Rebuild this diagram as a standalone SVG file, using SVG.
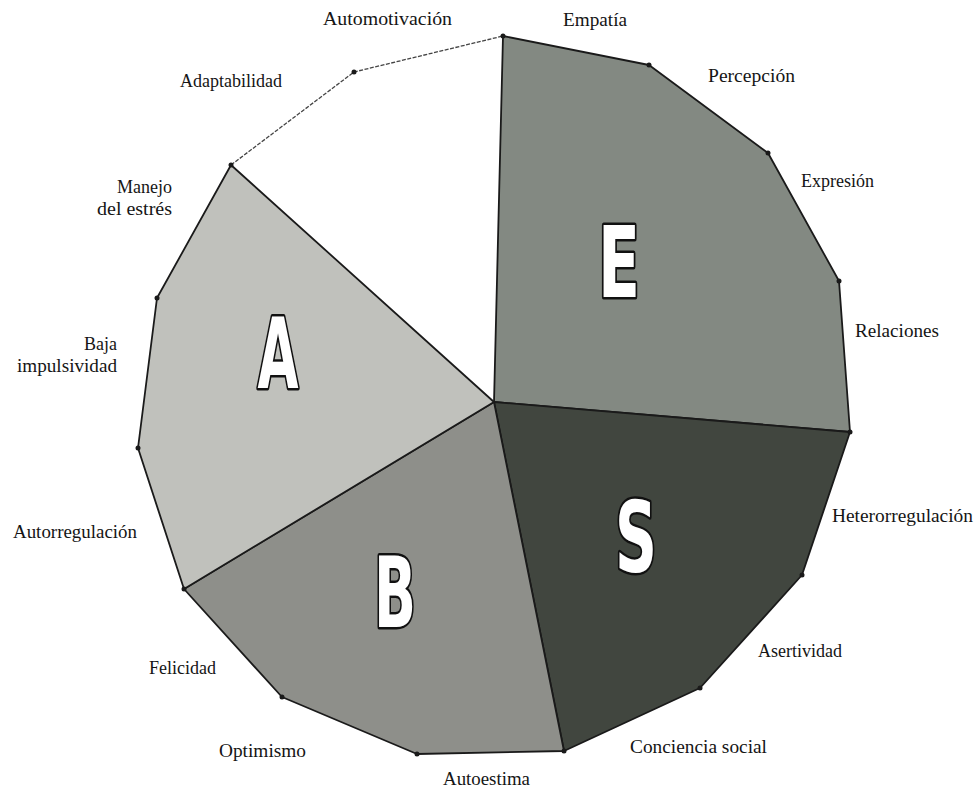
<svg xmlns="http://www.w3.org/2000/svg" width="980" height="791" viewBox="0 0 980 791">
<style>
.lbl{font-family:"Liberation Serif","Times New Roman",serif;font-size:18px;fill:#151515}
.sec{stroke:#1a1a1a;stroke-width:1.8;stroke-linejoin:round}
.big{font-family:"Liberation Sans Narrow","DejaVu Sans Condensed","Liberation Sans",sans-serif;font-weight:bold;font-size:98px;fill:#ffffff;stroke:#111;stroke-width:5;paint-order:stroke;stroke-linejoin:round;text-anchor:middle}
.dot{fill:#1a1a1a}
</style>
<rect width="980" height="791" fill="#ffffff"/>
<g id="sector-white">
<polygon points="494,402 231,165 354,72 503,36" fill="#ffffff" stroke="none"/>
<polyline points="231,165 354,72 503,36" fill="none" stroke="#444" stroke-width="1.3" stroke-dasharray="4 1.5"/>
</g>
<g id="sector-E">
<polygon class="sec" points="494,402 503,36 649,65 768,153 839,281 850,432" fill="#838982"/>
<text class="big" x="619" y="297" textLength="42" lengthAdjust="spacingAndGlyphs">E</text>
</g>
<g id="sector-S">
<polygon class="sec" points="494,402 850,432 802,575 700,688 564,751" fill="#41463f"/>
<text class="big" x="636" y="572" textLength="42" lengthAdjust="spacingAndGlyphs">S</text>
</g>
<g id="sector-B">
<polygon class="sec" points="494,402 564,751 417,754 282,697 184,589" fill="#8e8f8a"/>
<text class="big" x="395" y="627" textLength="42" lengthAdjust="spacingAndGlyphs">B</text>
</g>
<g id="sector-A">
<polygon class="sec" points="494,402 184,589 138,448 157,298 231,165" fill="#c0c1bc"/>
<text class="big" x="278" y="388" textLength="41" lengthAdjust="spacingAndGlyphs">A</text>
</g>
<g id="vertices">
<circle class="dot" cx="503" cy="36" r="2.5"/>
<circle class="dot" cx="649" cy="65" r="2.5"/>
<circle class="dot" cx="768" cy="153" r="2.5"/>
<circle class="dot" cx="839" cy="281" r="2.5"/>
<circle class="dot" cx="850" cy="432" r="2.5"/>
<circle class="dot" cx="802" cy="575" r="2.5"/>
<circle class="dot" cx="700" cy="688" r="2.5"/>
<circle class="dot" cx="564" cy="751" r="2.5"/>
<circle class="dot" cx="417" cy="754" r="2.5"/>
<circle class="dot" cx="282" cy="697" r="2.5"/>
<circle class="dot" cx="184" cy="589" r="2.5"/>
<circle class="dot" cx="138" cy="448" r="2.5"/>
<circle class="dot" cx="157" cy="298" r="2.5"/>
<circle class="dot" cx="231" cy="165" r="2.5"/>
<circle class="dot" cx="354" cy="72" r="2.5"/>
</g>
<g id="labels">
<text class="lbl" x="323" y="25" textLength="129" lengthAdjust="spacingAndGlyphs">Automotivación</text>
<text class="lbl" x="563" y="26" textLength="64" lengthAdjust="spacingAndGlyphs">Empatía</text>
<text class="lbl" x="708" y="82" textLength="87" lengthAdjust="spacingAndGlyphs">Percepción</text>
<text class="lbl" x="801" y="187">Expresión</text>
<text class="lbl" x="855" y="337" textLength="84" lengthAdjust="spacingAndGlyphs">Relaciones</text>
<text class="lbl" x="832" y="522" textLength="141" lengthAdjust="spacingAndGlyphs">Heterorregulación</text>
<text class="lbl" x="758" y="657">Asertividad</text>
<text class="lbl" x="630" y="753" textLength="137" lengthAdjust="spacingAndGlyphs">Conciencia social</text>
<text class="lbl" x="443" y="785" textLength="87" lengthAdjust="spacingAndGlyphs">Autoestima</text>
<text class="lbl" x="219" y="757" textLength="87" lengthAdjust="spacingAndGlyphs">Optimismo</text>
<text class="lbl" x="216" y="674" text-anchor="end">Felicidad</text>
<text class="lbl" x="13" y="538" textLength="124" lengthAdjust="spacingAndGlyphs">Autorregulación</text>
<text class="lbl" x="117" y="350" text-anchor="end">Baja</text>
<text class="lbl" x="17" y="372" textLength="100" lengthAdjust="spacingAndGlyphs">impulsividad</text>
<text class="lbl" x="172" y="193" text-anchor="end">Manejo</text>
<text class="lbl" x="97" y="215" textLength="75" lengthAdjust="spacingAndGlyphs">del estrés</text>
<text class="lbl" x="282" y="87" text-anchor="end">Adaptabilidad</text>
</g>
</svg>
